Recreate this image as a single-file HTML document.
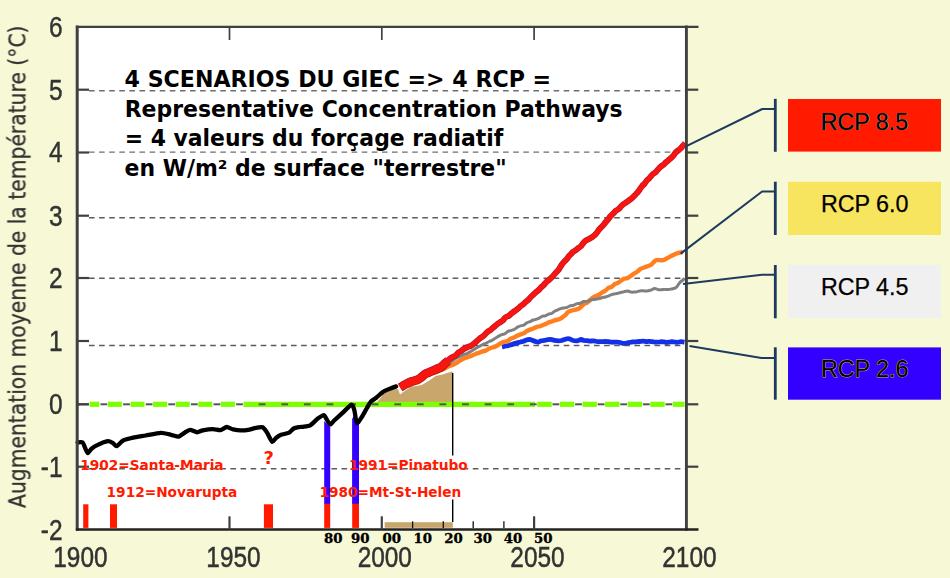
<!DOCTYPE html>
<html lang="fr"><head><meta charset="utf-8"><title>4 scénarios du GIEC - RCP</title>
<style>html,body{margin:0;padding:0;background:#f7f8d5;}body{width:950px;height:578px;overflow:hidden;font-family:"Liberation Sans",sans-serif;}svg{display:block}text{font-family:"Liberation Sans",sans-serif;}</style>
</head><body>
<svg width="950" height="578" viewBox="0 0 950 578">
<defs><filter id="b" x="-5%" y="-20%" width="110%" height="140%"><feGaussianBlur stdDeviation="0.45"/></filter><filter id="b3" filterUnits="userSpaceOnUse" x="60" y="10" width="660" height="540"><feGaussianBlur stdDeviation="0.4"/></filter><filter id="b2" x="-5%" y="-5%" width="110%" height="110%"><feGaussianBlur stdDeviation="0.5"/></filter></defs>
<rect width="950" height="578" fill="#f7f8d5"/>
<rect x="77.2" y="26.8" width="609.2" height="502.8" fill="#fff"/>
<line x1="89" y1="90.7" x2="685" y2="90.7" stroke="#6e6e6e" stroke-width="1.4" stroke-dasharray="5.6 4.5"/>
<line x1="89" y1="152.1" x2="685" y2="152.1" stroke="#6e6e6e" stroke-width="1.4" stroke-dasharray="5.6 4.5"/>
<line x1="89" y1="217.7" x2="685" y2="217.7" stroke="#5c5c5c" stroke-width="1.5" stroke-dasharray="5.6 4.5"/>
<line x1="89" y1="278.3" x2="685" y2="278.3" stroke="#5c5c5c" stroke-width="1.5" stroke-dasharray="5.6 4.5"/>
<line x1="89" y1="345.6" x2="685" y2="345.6" stroke="#5c5c5c" stroke-width="1.5" stroke-dasharray="5.6 4.5"/>
<line x1="89" y1="468.8" x2="685" y2="468.8" stroke="#5c5c5c" stroke-width="1.5" stroke-dasharray="5.6 4.5"/>
<polygon points="377.0,402.0 380.0,398.8 383.5,393.6 389.8,390.6 396.1,388.4 398.3,389.6 400.0,394.6 405.3,390.6 411.6,386.8 421.7,384.9 429.3,380.5 435.6,376.0 443.2,374.2 452.0,371.6 452.6,371.6 452.6,402.0 377.0,402.0" fill="#c9a66b"/>
<rect x="384.7" y="522.2" width="68.1" height="5.6" fill="#c9a66b"/>
<g stroke="#7dff00" stroke-width="5.2">
<line x1="89.6" y1="404.3" x2="99.2" y2="404.3"/>
<line x1="107.9" y1="404.3" x2="121.9" y2="404.3"/>
<line x1="130.5" y1="404.3" x2="144.5" y2="404.3"/>
<line x1="153.1" y1="404.3" x2="167.1" y2="404.3"/>
<line x1="175.7" y1="404.3" x2="189.7" y2="404.3"/>
<line x1="198.3" y1="404.3" x2="212.3" y2="404.3"/>
<line x1="220.9" y1="404.3" x2="234.9" y2="404.3"/>
<line x1="243.5" y1="404.3" x2="535.0" y2="404.3"/>
<line x1="537.3" y1="404.3" x2="551.7" y2="404.3"/>
<line x1="559.9" y1="404.3" x2="574.3" y2="404.3"/>
<line x1="582.5" y1="404.3" x2="596.9" y2="404.3"/>
<line x1="605.1" y1="404.3" x2="619.5" y2="404.3"/>
<line x1="627.7" y1="404.3" x2="642.1" y2="404.3"/>
<line x1="650.3" y1="404.3" x2="664.7" y2="404.3"/>
<line x1="672.9" y1="404.3" x2="684.5" y2="404.3"/>
</g>
<circle cx="78.6" cy="404.3" r="1.6" fill="#7dff00"/>
<g stroke="#555" stroke-width="2">
<line x1="79" y1="404.3" x2="88.5" y2="404.3"/>
<line x1="100.5" y1="404.3" x2="107.3" y2="404.3"/>
<line x1="123.1" y1="404.3" x2="129.9" y2="404.3"/>
<line x1="145.7" y1="404.3" x2="152.5" y2="404.3"/>
<line x1="168.3" y1="404.3" x2="175.1" y2="404.3"/>
<line x1="190.9" y1="404.3" x2="197.7" y2="404.3"/>
<line x1="213.5" y1="404.3" x2="220.3" y2="404.3"/>
<line x1="236.1" y1="404.3" x2="242.9" y2="404.3"/>
<line x1="258.7" y1="404.3" x2="265.5" y2="404.3"/>
<line x1="281.3" y1="404.3" x2="288.1" y2="404.3"/>
<line x1="303.9" y1="404.3" x2="310.7" y2="404.3"/>
<line x1="326.5" y1="404.3" x2="333.3" y2="404.3"/>
<line x1="349.1" y1="404.3" x2="355.9" y2="404.3"/>
<line x1="371.7" y1="404.3" x2="378.5" y2="404.3"/>
<line x1="394.3" y1="404.3" x2="401.1" y2="404.3"/>
<line x1="416.9" y1="404.3" x2="423.7" y2="404.3"/>
<line x1="439.5" y1="404.3" x2="446.3" y2="404.3"/>
<line x1="462.1" y1="404.3" x2="468.9" y2="404.3"/>
<line x1="484.7" y1="404.3" x2="491.5" y2="404.3"/>
<line x1="507.3" y1="404.3" x2="514.1" y2="404.3"/>
<line x1="529.9" y1="404.3" x2="536.7" y2="404.3"/>
<line x1="552.5" y1="404.3" x2="559.3" y2="404.3"/>
<line x1="575.1" y1="404.3" x2="581.9" y2="404.3"/>
<line x1="597.7" y1="404.3" x2="604.5" y2="404.3"/>
<line x1="620.3" y1="404.3" x2="627.1" y2="404.3"/>
<line x1="642.9" y1="404.3" x2="649.7" y2="404.3"/>
<line x1="665.5" y1="404.3" x2="672.3" y2="404.3"/>
</g>
<polygon points="324.2,421 330.2,427 330.2,504 324.2,504" fill="#3300ff"/>
<polygon points="352.1,419 354.6,414 359,424 359,504 352.1,504" fill="#3300ff"/>
<rect x="83.2" y="504.3" width="5.2" height="23.6" fill="#ff1a00"/>
<rect x="110.0" y="504.3" width="7.0" height="23.6" fill="#ff1a00"/>
<rect x="263.9" y="504.3" width="9.1" height="23.6" fill="#ff1a00"/>
<rect x="324.2" y="503.7" width="6.0" height="24.2" fill="#ff1a00"/>
<rect x="352.2" y="503.7" width="6.8" height="24.2" fill="#ff1a00"/>
<g stroke="#000" stroke-width="1.4"><line x1="452.7" y1="373" x2="452.7" y2="455.5"/><line x1="452.7" y1="499.5" x2="452.7" y2="522"/></g>
<g fill="none" stroke-linejoin="round" stroke-linecap="butt">
<path d="M502.0 347.0C502.5 346.9 503.9 346.3 504.8 346.1C505.8 345.9 506.7 346.0 507.7 345.8C508.8 345.5 509.9 345.2 511.0 344.8C512.1 344.5 513.1 343.9 514.2 343.6C515.3 343.2 516.3 343.0 517.3 342.7C518.3 342.5 519.3 342.2 520.3 342.0C521.4 341.7 522.6 341.6 523.6 341.3C524.6 341.0 525.3 340.3 526.3 340.0C527.3 339.6 528.6 339.4 529.6 339.4C530.6 339.5 531.4 339.9 532.3 340.2C533.2 340.5 534.1 341.1 535.1 341.4C536.1 341.8 537.1 342.3 538.1 342.2C539.1 342.1 540.1 341.1 541.2 340.8C542.3 340.5 543.5 340.6 544.6 340.4C545.7 340.2 546.7 339.8 547.7 339.6C548.7 339.5 549.6 339.3 550.7 339.4C551.9 339.6 553.2 340.1 554.4 340.3C555.7 340.5 557.1 340.7 558.3 340.8C559.5 340.8 560.6 340.8 561.7 340.5C562.9 340.3 564.1 339.6 565.2 339.3C566.3 339.0 567.2 338.4 568.4 338.6C569.6 338.7 571.1 339.8 572.4 340.2C573.7 340.6 575.1 340.9 576.1 340.9C577.2 341.0 578.0 340.5 578.8 340.3C579.6 340.0 580.3 339.5 581.1 339.5C582.0 339.6 583.0 340.3 584.0 340.5C585.0 340.7 586.2 340.5 587.2 340.6C588.2 340.7 588.9 341.0 590.0 341.1C591.1 341.1 592.6 340.8 593.8 340.9C595.1 341.0 596.3 341.5 597.5 341.6C598.8 341.7 599.9 341.7 601.2 341.7C602.4 341.7 603.9 341.5 605.0 341.5C606.2 341.5 607.1 341.6 608.2 341.7C609.3 341.8 610.5 342.2 611.6 342.2C612.7 342.3 613.6 342.2 614.7 342.2C615.7 342.1 616.8 341.9 617.9 342.1C619.0 342.2 620.2 342.7 621.2 342.9C622.2 343.2 623.0 343.5 624.1 343.4C625.3 343.4 626.8 342.9 628.1 342.7C629.3 342.5 630.6 342.2 631.8 342.0C633.0 341.9 634.2 342.0 635.4 341.9C636.7 341.8 638.2 341.6 639.5 341.5C640.8 341.4 641.9 341.2 643.1 341.2C644.3 341.2 645.6 341.6 646.7 341.6C647.8 341.6 648.8 341.3 649.9 341.3C651.0 341.4 652.3 341.7 653.4 341.9C654.6 342.0 655.7 342.3 656.8 342.2C657.9 342.2 658.8 341.8 660.0 341.8C661.1 341.7 662.5 341.8 663.7 341.9C664.8 342.0 665.7 342.5 666.9 342.5C668.0 342.5 669.2 341.9 670.4 341.8C671.6 341.7 672.8 341.8 674.0 341.9C675.2 341.9 676.2 342.3 677.4 342.3C678.6 342.2 679.8 341.7 681.0 341.7C682.2 341.7 683.9 342.1 684.5 342.2" stroke="#1230e8" stroke-width="4.8"/>
<path d="M437.0 371.5C437.5 371.3 438.9 370.5 439.9 370.1C440.9 369.8 441.9 369.9 442.9 369.5C443.9 369.1 444.8 368.4 445.8 367.8C446.7 367.3 447.7 366.8 448.9 366.3C450.0 365.8 451.4 365.4 452.6 364.9C453.7 364.4 454.9 363.8 455.9 363.2C457.0 362.6 457.9 361.9 458.9 361.3C459.9 360.6 461.1 360.0 462.2 359.5C463.2 359.0 464.0 358.5 465.1 358.0C466.1 357.6 467.1 357.2 468.3 356.8C469.4 356.4 470.6 356.1 471.8 355.6C472.9 355.2 474.1 354.4 475.3 354.0C476.6 353.5 477.8 353.2 479.0 352.8C480.2 352.3 481.7 351.7 482.8 351.4C483.9 351.0 484.6 351.0 485.6 350.6C486.6 350.2 487.8 349.3 488.9 348.8C489.9 348.3 490.9 347.8 492.0 347.5C493.1 347.1 494.4 347.0 495.5 346.6C496.6 346.1 497.5 345.4 498.4 344.7C499.4 344.1 500.4 343.4 501.4 342.9C502.5 342.4 503.6 342.1 504.6 341.8C505.7 341.4 506.7 341.4 507.8 340.9C508.9 340.3 510.2 339.0 511.2 338.4C512.3 337.8 513.1 337.8 514.0 337.4C515.0 337.0 516.0 336.3 517.1 335.8C518.3 335.3 519.6 334.7 520.7 334.2C521.8 333.8 522.7 333.7 523.8 333.2C524.8 332.7 525.7 331.7 526.8 331.1C527.9 330.5 529.1 330.0 530.1 329.6C531.2 329.1 532.3 329.0 533.3 328.5C534.3 328.1 535.2 327.4 536.2 327.1C537.3 326.7 538.6 326.7 539.7 326.3C540.8 326.0 541.8 325.6 542.8 325.1C543.8 324.7 544.9 324.3 545.9 323.9C546.9 323.4 548.0 322.7 549.0 322.2C550.0 321.8 550.9 321.8 551.9 321.4C552.9 321.1 554.1 320.5 555.2 320.1C556.3 319.8 557.5 319.7 558.5 319.4C559.4 319.1 560.0 318.8 560.9 318.3C561.8 317.8 562.8 317.0 563.7 316.4C564.5 315.7 565.1 315.3 565.9 314.5C566.7 313.7 567.4 312.5 568.4 311.8C569.4 311.1 570.6 310.8 571.7 310.5C572.9 310.2 574.3 310.0 575.4 309.7C576.6 309.4 577.6 309.2 578.6 308.7C579.6 308.1 580.6 307.2 581.5 306.4C582.5 305.6 583.3 304.4 584.3 303.8C585.2 303.1 586.2 303.2 587.1 302.6C588.0 302.1 588.9 301.2 589.8 300.4C590.7 299.6 591.7 298.5 592.7 297.7C593.7 297.0 594.9 296.5 595.9 296.0C596.9 295.5 597.8 295.4 598.9 294.8C600.0 294.2 601.3 293.0 602.3 292.3C603.4 291.6 604.2 291.5 605.2 290.7C606.2 290.0 607.2 288.7 608.3 288.0C609.4 287.4 610.6 287.5 611.7 286.8C612.8 286.2 613.9 284.6 614.9 284.0C615.9 283.3 616.9 283.4 618.0 282.8C619.0 282.3 620.1 281.2 621.1 280.6C622.1 279.9 622.9 279.2 624.0 278.7C625.0 278.3 626.3 278.5 627.4 278.1C628.5 277.6 629.6 276.8 630.7 276.0C631.8 275.3 633.0 274.3 634.0 273.6C635.1 272.9 636.0 272.6 637.1 271.8C638.2 271.0 639.4 269.5 640.5 268.8C641.7 268.1 642.9 268.0 644.0 267.5C645.1 267.1 646.2 266.7 647.3 266.3C648.4 265.9 649.9 265.5 650.9 264.9C651.9 264.3 652.4 263.4 653.2 262.6C654.1 261.8 654.9 260.7 656.0 260.3C657.1 259.9 658.5 260.1 659.8 260.1C661.0 260.1 662.2 260.5 663.4 260.2C664.6 259.9 665.7 259.0 666.9 258.3C668.2 257.7 669.4 257.0 670.8 256.3C672.1 255.7 673.5 254.9 674.8 254.3C676.1 253.7 677.1 253.4 678.5 252.9C679.8 252.5 682.2 252.0 683.0 251.8" stroke="#ff7f1e" stroke-width="4.4"/>
<path d="M441.0 368.0C441.5 367.7 443.2 367.0 444.3 366.3C445.3 365.6 446.4 364.6 447.5 363.9C448.6 363.3 449.7 363.0 450.8 362.3C451.9 361.5 453.0 360.4 454.1 359.6C455.2 358.9 456.2 358.2 457.3 357.7C458.5 357.1 459.6 356.6 460.8 356.1C462.0 355.6 463.2 354.9 464.3 354.4C465.4 353.9 466.4 353.8 467.5 353.3C468.6 352.8 469.8 352.1 470.9 351.5C472.0 350.9 472.9 350.3 473.9 349.6C474.9 349.0 475.8 348.4 476.8 347.8C477.8 347.2 478.9 346.6 479.9 346.1C480.9 345.5 481.8 345.0 482.8 344.5C483.7 344.1 484.6 343.9 485.7 343.4C486.7 342.9 488.1 342.0 489.1 341.5C490.2 341.0 490.9 341.0 492.0 340.4C493.0 339.8 494.2 338.8 495.3 338.2C496.3 337.5 497.3 337.0 498.3 336.4C499.4 335.8 500.6 335.1 501.7 334.7C502.8 334.2 503.9 334.3 504.9 333.7C506.0 333.2 507.0 331.9 508.0 331.3C509.0 330.8 509.8 330.8 510.9 330.5C512.0 330.1 513.3 329.8 514.4 329.3C515.5 328.7 516.5 327.7 517.5 327.1C518.6 326.6 519.4 326.2 520.5 325.9C521.5 325.6 522.8 325.6 523.8 325.1C524.9 324.6 525.8 323.3 526.8 322.8C527.8 322.2 528.9 322.2 530.0 321.7C531.0 321.3 532.1 320.4 533.1 320.0C534.1 319.6 535.0 319.7 536.0 319.4C537.0 319.1 538.2 318.6 539.2 318.1C540.2 317.6 541.2 316.7 542.2 316.3C543.2 316.0 544.2 316.2 545.3 315.9C546.3 315.5 547.5 314.5 548.5 314.1C549.6 313.7 550.7 314.0 551.7 313.5C552.7 313.0 553.5 311.9 554.5 311.3C555.5 310.7 556.8 310.3 557.9 309.8C558.9 309.4 559.7 309.0 560.7 308.6C561.8 308.3 563.2 308.1 564.3 307.9C565.3 307.7 566.1 307.8 567.1 307.4C568.2 307.0 569.5 306.1 570.6 305.7C571.7 305.4 572.7 305.6 573.7 305.3C574.7 304.9 575.7 304.0 576.8 303.7C577.9 303.3 579.1 303.6 580.3 303.3C581.5 302.9 582.8 301.8 583.9 301.5C585.0 301.2 585.8 301.7 586.8 301.5C587.8 301.3 588.8 300.5 589.8 300.2C590.8 299.9 591.8 299.7 592.8 299.5C593.8 299.4 594.7 299.4 595.8 299.2C596.9 299.0 598.3 298.8 599.3 298.5C600.4 298.3 601.2 297.7 602.3 297.5C603.3 297.2 604.5 297.3 605.6 297.0C606.7 296.7 607.8 296.2 608.9 295.8C609.9 295.4 610.8 295.0 611.8 294.6C612.8 294.3 613.9 294.1 614.8 293.9C615.8 293.6 616.8 293.5 617.8 293.3C618.9 293.0 620.0 292.7 621.1 292.4C622.2 292.1 623.3 291.9 624.4 291.6C625.5 291.4 626.7 290.9 627.8 290.9C628.9 291.0 630.1 291.9 631.2 292.1C632.3 292.2 633.4 292.1 634.3 292.1C635.2 292.0 635.8 292.1 636.7 291.9C637.5 291.7 638.3 291.0 639.4 290.9C640.5 290.7 642.0 290.8 643.3 290.8C644.6 290.9 645.6 291.2 646.9 291.1C648.2 291.0 649.6 290.5 650.9 290.1C652.2 289.7 653.5 288.5 654.6 288.4C655.8 288.3 656.7 289.2 657.7 289.5C658.7 289.7 659.6 289.8 660.7 289.8C661.9 289.8 663.1 289.5 664.4 289.4C665.7 289.3 667.3 289.5 668.5 289.4C669.7 289.4 670.3 289.2 671.4 289.0C672.5 288.8 673.9 288.6 674.9 288.1C675.8 287.7 676.5 287.1 677.3 286.2C678.1 285.2 678.9 283.6 679.7 282.7C680.5 281.7 681.4 281.2 682.3 280.5C683.1 279.8 684.4 278.8 684.8 278.5" stroke="#808080" stroke-width="3.0"/>
<path d="M400.2 387.5C400.7 387.2 402.1 386.2 403.2 385.6C404.2 385.0 405.3 384.4 406.2 384.0C407.2 383.5 408.1 383.1 409.1 382.7C410.1 382.3 411.2 381.8 412.1 381.4C413.1 381.1 414.0 380.9 414.9 380.6C415.9 380.3 417.0 380.0 417.9 379.6C418.8 379.2 419.6 378.6 420.4 378.0C421.3 377.4 422.1 376.6 423.0 375.9C423.8 375.2 424.5 374.4 425.4 373.9C426.4 373.4 427.4 373.1 428.4 372.7C429.4 372.3 430.3 371.8 431.3 371.4C432.2 371.0 433.2 370.7 434.2 370.3C435.3 369.9 436.4 369.3 437.5 368.9C438.5 368.4 439.7 368.0 440.6 367.4C441.6 366.7 442.4 366.0 443.2 365.2C444.1 364.5 444.8 363.7 445.6 362.9C446.5 362.2 447.8 361.2 448.2 360.9" stroke="#b01828" stroke-width="9.0"/>
<path d="M400.2 386.2C400.7 386.0 402.0 385.5 403.0 384.9C404.0 384.4 405.2 383.7 406.2 383.0C407.2 382.3 408.2 381.1 409.2 380.7C410.2 380.3 411.1 380.8 412.1 380.6C413.1 380.4 414.1 380.0 415.1 379.6C416.1 379.3 417.0 378.8 417.9 378.3C418.8 377.8 419.7 377.2 420.6 376.7C421.4 376.2 422.2 375.7 423.1 375.1C423.9 374.5 424.7 373.5 425.6 373.0C426.5 372.4 427.6 372.3 428.5 371.8C429.4 371.3 430.2 370.6 431.2 370.1C432.2 369.6 433.2 369.3 434.2 368.8C435.3 368.3 436.5 367.6 437.6 367.1C438.6 366.7 439.7 366.5 440.6 366.0C441.6 365.4 442.4 364.6 443.2 363.9C444.0 363.2 444.6 362.4 445.5 361.7C446.3 361.0 447.4 360.5 448.3 359.9C449.2 359.3 449.9 358.6 450.7 358.1C451.5 357.6 452.3 357.3 453.1 356.8C453.9 356.4 454.9 356.1 455.7 355.4C456.6 354.7 457.4 353.4 458.2 352.7C459.1 352.0 459.9 351.8 460.8 351.2C461.6 350.6 462.5 349.8 463.6 349.1C464.6 348.5 465.9 347.9 467.1 347.3C468.3 346.7 469.8 346.3 471.0 345.7C472.1 345.1 473.0 344.3 474.0 343.6C475.0 342.8 475.9 342.0 476.9 341.1C477.9 340.2 479.1 339.0 480.0 338.3C481.0 337.5 481.7 337.3 482.5 336.7C483.4 336.0 484.1 335.2 485.0 334.4C485.8 333.6 486.7 332.5 487.6 331.8C488.5 331.1 489.4 330.8 490.2 330.2C491.1 329.6 491.8 328.8 492.6 328.1C493.5 327.3 494.4 326.6 495.2 325.9C496.1 325.2 496.8 324.4 497.6 323.8C498.5 323.2 499.3 322.8 500.2 322.2C501.1 321.6 502.2 321.1 503.0 320.3C503.9 319.4 504.4 318.1 505.4 317.4C506.3 316.6 507.7 316.5 508.7 315.9C509.8 315.2 510.6 314.1 511.6 313.3C512.7 312.5 513.9 311.6 515.0 310.9C516.1 310.1 517.1 309.4 518.0 308.6C518.9 307.9 519.7 306.9 520.5 306.2C521.3 305.6 522.1 305.3 522.9 304.6C523.8 303.9 524.7 302.9 525.6 302.1C526.5 301.3 527.3 300.7 528.2 299.8C529.0 299.0 530.0 297.8 530.8 297.0C531.6 296.2 532.2 295.8 533.0 295.0C533.8 294.3 534.8 293.1 535.7 292.4C536.5 291.6 537.3 291.3 538.1 290.6C539.0 289.8 539.9 288.5 540.8 287.6C541.7 286.7 542.7 286.0 543.6 285.1C544.5 284.2 545.3 283.0 546.2 282.2C547.0 281.4 547.7 281.0 548.6 280.3C549.5 279.5 550.5 278.6 551.4 277.7C552.3 276.8 553.0 276.0 553.9 275.0C554.8 274.0 555.8 272.7 556.6 271.9C557.3 271.0 557.9 270.8 558.5 269.9C559.2 269.1 559.8 267.8 560.4 266.8C561.0 265.9 561.5 265.1 562.1 264.2C562.8 263.3 563.6 262.4 564.3 261.5C565.1 260.7 565.9 260.0 566.6 259.2C567.3 258.4 567.9 257.4 568.6 256.6C569.3 255.8 570.0 255.2 570.8 254.3C571.5 253.5 572.4 252.4 573.3 251.7C574.1 251.0 574.9 250.8 575.7 250.2C576.5 249.7 577.4 248.7 578.2 248.1C579.1 247.5 579.8 247.3 580.6 246.5C581.4 245.7 582.1 244.4 583.0 243.4C583.8 242.5 584.6 241.4 585.7 240.6C586.8 239.8 588.3 239.4 589.6 238.7C590.8 238.0 592.1 237.2 593.1 236.4C594.2 235.6 594.8 235.0 595.7 234.1C596.5 233.1 597.4 231.8 598.2 230.7C599.1 229.6 600.1 228.5 600.9 227.6C601.7 226.7 602.4 226.2 603.2 225.3C604.1 224.3 604.9 223.1 605.8 222.0C606.6 221.0 607.5 220.0 608.4 219.0C609.2 217.9 609.9 216.8 610.8 215.9C611.7 214.9 612.8 214.0 613.6 213.2C614.5 212.3 615.0 211.4 615.9 210.7C616.7 210.0 617.9 209.7 618.7 209.0C619.6 208.3 620.1 207.3 620.9 206.5C621.7 205.6 622.5 204.9 623.5 204.1C624.4 203.4 625.5 202.8 626.6 202.1C627.7 201.3 628.8 200.5 629.8 199.8C630.8 199.0 631.8 198.2 632.7 197.4C633.6 196.5 634.4 195.7 635.3 194.8C636.1 193.9 637.2 192.8 638.0 191.8C638.8 190.8 639.4 189.9 640.1 188.9C640.9 187.9 641.6 186.7 642.3 185.8C643.0 184.9 643.7 184.7 644.5 183.8C645.2 182.9 646.1 181.4 646.8 180.5C647.6 179.6 648.2 179.4 649.0 178.6C649.7 177.8 650.5 176.6 651.3 175.8C652.0 175.0 652.8 174.3 653.6 173.6C654.4 173.0 655.3 172.6 656.0 171.9C656.8 171.2 657.2 170.4 658.0 169.5C658.8 168.6 659.9 167.3 660.8 166.6C661.7 165.8 662.4 165.8 663.2 165.1C664.0 164.4 664.7 163.4 665.6 162.6C666.5 161.8 667.6 161.0 668.5 160.2C669.3 159.4 670.2 158.8 671.0 158.1C671.8 157.3 672.5 156.6 673.3 155.7C674.1 154.7 674.9 153.3 675.8 152.4C676.6 151.5 677.6 150.9 678.5 150.2C679.3 149.5 680.0 149.0 680.7 148.3C681.5 147.5 682.3 146.6 683.0 145.7C683.8 144.9 684.8 143.7 685.2 143.3" stroke="#c01424" stroke-width="6.0"/>
<path d="M400.2 387.5C400.7 387.2 402.1 386.2 403.2 385.6C404.2 385.0 405.3 384.4 406.2 384.0C407.2 383.5 408.1 383.1 409.1 382.7C410.1 382.3 411.2 381.8 412.1 381.4C413.1 381.1 414.0 380.9 414.9 380.6C415.9 380.3 417.0 380.0 417.9 379.6C418.8 379.2 419.6 378.6 420.4 378.0C421.3 377.4 422.1 376.6 423.0 375.9C423.8 375.2 424.5 374.4 425.4 373.9C426.4 373.4 427.4 373.1 428.4 372.7C429.4 372.3 430.3 371.8 431.3 371.4C432.2 371.0 433.2 370.7 434.2 370.3C435.3 369.9 436.4 369.3 437.5 368.9C438.5 368.4 439.7 368.0 440.6 367.4C441.6 366.7 442.4 366.0 443.2 365.2C444.1 364.5 444.8 363.7 445.6 362.9C446.5 362.2 447.8 361.2 448.2 360.9" stroke="#f81808" stroke-width="7.2"/>
<path d="M400.2 386.2C400.7 386.0 402.0 385.5 403.0 384.9C404.0 384.4 405.2 383.7 406.2 383.0C407.2 382.3 408.2 381.1 409.2 380.7C410.2 380.3 411.1 380.8 412.1 380.6C413.1 380.4 414.1 380.0 415.1 379.6C416.1 379.3 417.0 378.8 417.9 378.3C418.8 377.8 419.7 377.2 420.6 376.7C421.4 376.2 422.2 375.7 423.1 375.1C423.9 374.5 424.7 373.5 425.6 373.0C426.5 372.4 427.6 372.3 428.5 371.8C429.4 371.3 430.2 370.6 431.2 370.1C432.2 369.6 433.2 369.3 434.2 368.8C435.3 368.3 436.5 367.6 437.6 367.1C438.6 366.7 439.7 366.5 440.6 366.0C441.6 365.4 442.4 364.6 443.2 363.9C444.0 363.2 444.6 362.4 445.5 361.7C446.3 361.0 447.4 360.5 448.3 359.9C449.2 359.3 449.9 358.6 450.7 358.1C451.5 357.6 452.3 357.3 453.1 356.8C453.9 356.4 454.9 356.1 455.7 355.4C456.6 354.7 457.4 353.4 458.2 352.7C459.1 352.0 459.9 351.8 460.8 351.2C461.6 350.6 462.5 349.8 463.6 349.1C464.6 348.5 465.9 347.9 467.1 347.3C468.3 346.7 469.8 346.3 471.0 345.7C472.1 345.1 473.0 344.3 474.0 343.6C475.0 342.8 475.9 342.0 476.9 341.1C477.9 340.2 479.1 339.0 480.0 338.3C481.0 337.5 481.7 337.3 482.5 336.7C483.4 336.0 484.1 335.2 485.0 334.4C485.8 333.6 486.7 332.5 487.6 331.8C488.5 331.1 489.4 330.8 490.2 330.2C491.1 329.6 491.8 328.8 492.6 328.1C493.5 327.3 494.4 326.6 495.2 325.9C496.1 325.2 496.8 324.4 497.6 323.8C498.5 323.2 499.3 322.8 500.2 322.2C501.1 321.6 502.2 321.1 503.0 320.3C503.9 319.4 504.4 318.1 505.4 317.4C506.3 316.6 507.7 316.5 508.7 315.9C509.8 315.2 510.6 314.1 511.6 313.3C512.7 312.5 513.9 311.6 515.0 310.9C516.1 310.1 517.1 309.4 518.0 308.6C518.9 307.9 519.7 306.9 520.5 306.2C521.3 305.6 522.1 305.3 522.9 304.6C523.8 303.9 524.7 302.9 525.6 302.1C526.5 301.3 527.3 300.7 528.2 299.8C529.0 299.0 530.0 297.8 530.8 297.0C531.6 296.2 532.2 295.8 533.0 295.0C533.8 294.3 534.8 293.1 535.7 292.4C536.5 291.6 537.3 291.3 538.1 290.6C539.0 289.8 539.9 288.5 540.8 287.6C541.7 286.7 542.7 286.0 543.6 285.1C544.5 284.2 545.3 283.0 546.2 282.2C547.0 281.4 547.7 281.0 548.6 280.3C549.5 279.5 550.5 278.6 551.4 277.7C552.3 276.8 553.0 276.0 553.9 275.0C554.8 274.0 555.8 272.7 556.6 271.9C557.3 271.0 557.9 270.8 558.5 269.9C559.2 269.1 559.8 267.8 560.4 266.8C561.0 265.9 561.5 265.1 562.1 264.2C562.8 263.3 563.6 262.4 564.3 261.5C565.1 260.7 565.9 260.0 566.6 259.2C567.3 258.4 567.9 257.4 568.6 256.6C569.3 255.8 570.0 255.2 570.8 254.3C571.5 253.5 572.4 252.4 573.3 251.7C574.1 251.0 574.9 250.8 575.7 250.2C576.5 249.7 577.4 248.7 578.2 248.1C579.1 247.5 579.8 247.3 580.6 246.5C581.4 245.7 582.1 244.4 583.0 243.4C583.8 242.5 584.6 241.4 585.7 240.6C586.8 239.8 588.3 239.4 589.6 238.7C590.8 238.0 592.1 237.2 593.1 236.4C594.2 235.6 594.8 235.0 595.7 234.1C596.5 233.1 597.4 231.8 598.2 230.7C599.1 229.6 600.1 228.5 600.9 227.6C601.7 226.7 602.4 226.2 603.2 225.3C604.1 224.3 604.9 223.1 605.8 222.0C606.6 221.0 607.5 220.0 608.4 219.0C609.2 217.9 609.9 216.8 610.8 215.9C611.7 214.9 612.8 214.0 613.6 213.2C614.5 212.3 615.0 211.4 615.9 210.7C616.7 210.0 617.9 209.7 618.7 209.0C619.6 208.3 620.1 207.3 620.9 206.5C621.7 205.6 622.5 204.9 623.5 204.1C624.4 203.4 625.5 202.8 626.6 202.1C627.7 201.3 628.8 200.5 629.8 199.8C630.8 199.0 631.8 198.2 632.7 197.4C633.6 196.5 634.4 195.7 635.3 194.8C636.1 193.9 637.2 192.8 638.0 191.8C638.8 190.8 639.4 189.9 640.1 188.9C640.9 187.9 641.6 186.7 642.3 185.8C643.0 184.9 643.7 184.7 644.5 183.8C645.2 182.9 646.1 181.4 646.8 180.5C647.6 179.6 648.2 179.4 649.0 178.6C649.7 177.8 650.5 176.6 651.3 175.8C652.0 175.0 652.8 174.3 653.6 173.6C654.4 173.0 655.3 172.6 656.0 171.9C656.8 171.2 657.2 170.4 658.0 169.5C658.8 168.6 659.9 167.3 660.8 166.6C661.7 165.8 662.4 165.8 663.2 165.1C664.0 164.4 664.7 163.4 665.6 162.6C666.5 161.8 667.6 161.0 668.5 160.2C669.3 159.4 670.2 158.8 671.0 158.1C671.8 157.3 672.5 156.6 673.3 155.7C674.1 154.7 674.9 153.3 675.8 152.4C676.6 151.5 677.6 150.9 678.5 150.2C679.3 149.5 680.0 149.0 680.7 148.3C681.5 147.5 682.3 146.6 683.0 145.7C683.8 144.9 684.8 143.7 685.2 143.3" stroke="#f81410" stroke-width="4.5"/>
<path d="M77.6 442.4C78.1 442.4 81.8 441.8 82.6 442.4C83.4 443.0 84.7 447.0 85.2 448.1C85.7 449.2 87.1 453.1 87.7 453.2C88.3 453.3 90.5 449.5 91.5 448.7C92.5 447.9 96.2 445.6 97.8 444.9C99.4 444.1 106.4 441.4 107.9 441.2C109.4 441.0 112.0 442.6 112.9 443.1C113.8 443.6 115.7 446.5 116.7 446.2C117.7 445.9 121.4 441.4 123.1 440.5C124.8 439.6 130.9 438.2 133.2 437.7C135.5 437.2 143.0 436.0 145.8 435.5C148.6 435.0 158.4 433.0 160.9 432.9C163.4 432.8 169.2 434.4 171.0 434.8C172.8 435.2 177.2 436.9 178.6 436.7C180.0 436.4 183.9 433.0 185.1 432.3C186.2 431.6 188.9 429.8 190.1 429.8C191.3 429.8 195.8 432.2 197.1 432.3C198.4 432.4 201.1 430.7 202.7 430.4C204.3 430.1 211.0 429.2 212.8 429.2C214.6 429.2 219.0 430.4 220.4 430.2C221.8 430.0 225.4 427.1 226.7 427.0C228.0 426.9 231.7 429.1 233.1 429.4C234.5 429.7 239.1 430.4 240.6 430.4C242.1 430.4 246.7 430.1 248.2 429.8C249.7 429.6 254.4 428.1 255.8 427.9C257.2 427.6 261.6 426.8 262.7 427.3C263.8 427.8 266.2 431.4 267.2 432.9C268.1 434.3 271.3 441.3 272.2 441.8C273.1 442.3 275.1 438.7 276.0 438.0C276.9 437.3 279.7 435.3 281.0 434.8C282.3 434.3 287.3 433.5 288.6 432.9C289.9 432.3 292.6 429.1 293.7 428.5C294.8 427.9 299.1 427.2 300.0 427.0C300.9 426.8 301.6 427.0 302.6 426.8C303.6 426.6 308.7 426.1 310.2 425.3C311.7 424.5 316.4 419.6 317.8 418.6C319.2 417.6 323.0 415.1 323.9 415.2C324.8 415.3 326.0 418.4 326.6 419.3C327.2 420.2 329.4 424.5 330.2 424.6C331.0 424.7 332.9 421.7 334.2 420.5C335.5 419.3 341.4 413.9 343.1 412.3C344.8 410.7 350.5 404.9 351.6 404.7C352.7 404.5 353.9 408.6 354.4 410.4C354.9 412.2 356.1 422.5 356.9 423.1C357.7 423.7 361.0 418.2 362.0 416.7C363.0 415.2 366.1 409.4 367.0 407.9C367.9 406.4 369.9 402.6 370.8 401.6C371.7 400.6 374.6 399.0 375.9 398.0C377.2 397.0 382.1 392.4 383.5 391.5C384.9 390.6 388.5 389.2 389.8 388.7C391.1 388.2 395.5 386.6 396.1 386.4" stroke="#000" stroke-width="4.3" stroke-linecap="round"/>
</g>
<g stroke="#404040" fill="none" filter="url(#b3)">
<line x1="77.2" y1="25.6" x2="77.2" y2="530.8" stroke-width="3.0"/>
<line x1="686.4" y1="25.6" x2="686.4" y2="530.8" stroke-width="2.9"/>
<line x1="75.9" y1="26.8" x2="698.5" y2="26.8" stroke-width="2.3"/>
<line x1="75.9" y1="529.6" x2="698.5" y2="529.6" stroke-width="2.5" stroke="#222"/>
<line x1="77.2" y1="89.7" x2="89" y2="89.7" stroke-width="2.2"/>
<line x1="686.4" y1="89.7" x2="698.3" y2="89.7" stroke-width="2.2"/>
<line x1="77.2" y1="152.5" x2="89" y2="152.5" stroke-width="2.2"/>
<line x1="686.4" y1="152.5" x2="698.3" y2="152.5" stroke-width="2.2"/>
<line x1="77.2" y1="215.7" x2="89" y2="215.7" stroke-width="2.2"/>
<line x1="686.4" y1="215.7" x2="698.3" y2="215.7" stroke-width="2.2"/>
<line x1="77.2" y1="278.0" x2="89" y2="278.0" stroke-width="2.2"/>
<line x1="686.4" y1="278.0" x2="698.3" y2="278.0" stroke-width="2.2"/>
<line x1="77.2" y1="341.0" x2="89" y2="341.0" stroke-width="2.2"/>
<line x1="686.4" y1="341.0" x2="698.3" y2="341.0" stroke-width="2.2"/>
<line x1="77.2" y1="404.3" x2="89" y2="404.3" stroke-width="2.2"/>
<line x1="686.4" y1="404.3" x2="698.3" y2="404.3" stroke-width="2.2"/>
<line x1="77.2" y1="466.7" x2="89" y2="466.7" stroke-width="2.2"/>
<line x1="686.4" y1="466.7" x2="698.3" y2="466.7" stroke-width="2.2"/>
<line x1="229.5" y1="26.8" x2="229.5" y2="40" stroke-width="1.7"/>
<line x1="229.5" y1="516.3" x2="229.5" y2="529.6" stroke-width="2.2"/>
<line x1="381.8" y1="26.8" x2="381.8" y2="40" stroke-width="1.7"/>
<line x1="381.8" y1="516.3" x2="381.8" y2="529.6" stroke-width="2.2"/>
<line x1="534.1" y1="26.8" x2="534.1" y2="40" stroke-width="1.7"/>
<line x1="534.1" y1="516.3" x2="534.1" y2="529.6" stroke-width="2.2"/>
</g>
<g stroke="#111" stroke-width="1.3">
<line x1="412.6" y1="521.3" x2="412.6" y2="528"/>
<line x1="443.3" y1="521.3" x2="443.3" y2="528"/>
<line x1="473.2" y1="521.3" x2="473.2" y2="528"/>
<line x1="503.9" y1="521.3" x2="503.9" y2="528"/>
</g>
<g stroke="#1f3a60" fill="none" stroke-width="2.0" stroke-linejoin="round">
<polyline points="685.4,146.6 762.3,109 775,109"/>
<polyline points="680.6,253.6 762.1,191.5 775,191.5"/>
<polyline points="683,284 762,274.8 775,274.8"/>
<polyline points="689.5,346 761.5,358 775,358"/>
</g>
<g stroke="#1f3a60" stroke-width="2.8">
<line x1="775.3" y1="98.8" x2="775.3" y2="151.8"/>
<line x1="775.3" y1="181.7" x2="775.3" y2="235.0"/>
<line x1="775.3" y1="265.0" x2="775.3" y2="318.3"/>
<line x1="775.3" y1="347.3" x2="775.3" y2="399.7"/>
</g>
<rect x="788" y="99.0" width="153" height="52.6" fill="#ff1a00"/>
<text x="864.1" y="129.8" font-size="23.3" text-anchor="middle" fill="#2c3c78" aria-hidden="true">RCP 8.5</text>
<text x="865.3" y="129.8" font-size="23.3" text-anchor="middle" fill="#e0a878" aria-hidden="true">RCP 8.5</text>
<text x="864.7" y="129.8" font-size="23.3" text-anchor="middle" fill="#000">RCP 8.5</text>
<rect x="788" y="181.8" width="153" height="53.2" fill="#f7e560"/>
<text x="864.7" y="211.6" font-size="23.3" text-anchor="middle" fill="#000" stroke="#000" stroke-width="0.25">RCP 6.0</text>
<rect x="788" y="264.9" width="153" height="53.4" fill="#f0f0f0"/>
<text x="864.7" y="295.0" font-size="23.3" text-anchor="middle" fill="#000" stroke="#000" stroke-width="0.25">RCP 4.5</text>
<rect x="788" y="347.4" width="153" height="52.3" fill="#3300ff"/>
<text x="864.7" y="377.1" font-size="23.3" text-anchor="middle" fill="#000" stroke="#c8a868" stroke-width="0.95" paint-order="stroke">RCP 2.6</text>
<g fill="#333" stroke="#333" stroke-width="0.45" font-size="30.4" text-anchor="end" filter="url(#b)">
<text transform="translate(62.6,36.7) scale(0.805,1)">6</text>
<text transform="translate(62.6,99.6) scale(0.805,1)">5</text>
<text transform="translate(62.6,162.4) scale(0.805,1)">4</text>
<text transform="translate(62.6,225.6) scale(0.805,1)">3</text>
<text transform="translate(62.6,287.9) scale(0.805,1)">2</text>
<text transform="translate(62.6,350.9) scale(0.805,1)">1</text>
<text transform="translate(62.6,414.2) scale(0.805,1)">0</text>
<text transform="translate(62.6,476.6) scale(0.805,1)">-1</text>
<text transform="translate(62.6,539.5) scale(0.805,1)">-2</text>
</g>
<g fill="#333" stroke="#333" stroke-width="0.5" font-size="30.3" text-anchor="middle" filter="url(#b)">
<text x="80.4" y="567.1" textLength="54.3" lengthAdjust="spacingAndGlyphs">1900</text>
<text x="233.5" y="567.1" textLength="54.3" lengthAdjust="spacingAndGlyphs">1950</text>
<text x="384.8" y="567.1" textLength="54.3" lengthAdjust="spacingAndGlyphs">2000</text>
<text x="537.5" y="567.1" textLength="54.3" lengthAdjust="spacingAndGlyphs">2050</text>
<text x="689.4" y="567.1" textLength="54.3" lengthAdjust="spacingAndGlyphs">2100</text>
</g>
<g fill="#000" font-size="22.15" font-weight="bold" style="font-family:'DejaVu Sans','Liberation Sans',sans-serif">
<text x="124.6" y="87" textLength="426.5" lengthAdjust="spacingAndGlyphs" style="font-family:'DejaVu Sans','Liberation Sans',sans-serif">4 SCENARIOS DU GIEC =&gt; 4 RCP =</text>
<text x="124.7" y="116.7" textLength="498" lengthAdjust="spacingAndGlyphs" style="font-family:'DejaVu Sans','Liberation Sans',sans-serif">Representative Concentration Pathways</text>
<text x="124.7" y="146.4" textLength="378.7" lengthAdjust="spacingAndGlyphs" style="font-family:'DejaVu Sans','Liberation Sans',sans-serif">= 4 valeurs du forçage radiatif</text>
<text x="124.6" y="176.1" textLength="382" lengthAdjust="spacingAndGlyphs" style="font-family:'DejaVu Sans','Liberation Sans',sans-serif">en W/m² de surface "terrestre"</text>
</g>
<g fill="#ff1a00" font-size="13.7" font-weight="bold">
<text x="80.2" y="469.5" style="font-family:'DejaVu Sans','Liberation Sans',sans-serif">1902=Santa-Maria</text>
<text x="106.6" y="496.5" style="font-family:'DejaVu Sans','Liberation Sans',sans-serif">1912=Novarupta</text>
<text x="263.5" y="464.2" font-size="17.9" style="font-family:'DejaVu Sans','Liberation Sans',sans-serif">?</text>
<text x="349.0" y="469.5" style="font-family:'DejaVu Sans','Liberation Sans',sans-serif">1991=Pinatubo</text>
<text x="319.4" y="497.1" style="font-family:'DejaVu Sans','Liberation Sans',sans-serif">1980=Mt-St-Helen</text>
</g>
<g fill="#000" stroke="#000" stroke-width="0.35" font-size="13.3" font-weight="bold">
<text x="324.0" y="543.3" style="font-family:'DejaVu Serif','Liberation Serif',serif">80</text>
<text x="350.9" y="543.3" style="font-family:'DejaVu Serif','Liberation Serif',serif">90</text>
<text x="382.5" y="543.3" style="font-family:'DejaVu Serif','Liberation Serif',serif">00</text>
<text x="413.6" y="543.3" style="font-family:'DejaVu Serif','Liberation Serif',serif">10</text>
<text x="444.2" y="543.3" style="font-family:'DejaVu Serif','Liberation Serif',serif">20</text>
<text x="473.6" y="543.3" style="font-family:'DejaVu Serif','Liberation Serif',serif">30</text>
<text x="503.8" y="543.3" style="font-family:'DejaVu Serif','Liberation Serif',serif">40</text>
<text x="534.1" y="543.3" style="font-family:'DejaVu Serif','Liberation Serif',serif">50</text>
</g>
<g transform="translate(25.4,508.0) rotate(-90)" filter="url(#b2)"><text x="0" y="0" font-size="22.6" fill="#333" stroke="#333" stroke-width="0.3" textLength="482.5" lengthAdjust="spacingAndGlyphs" style="font-family:'DejaVu Sans','Liberation Sans',sans-serif">Augmentation moyenne de la température (°C)</text></g>
</svg></body></html>
